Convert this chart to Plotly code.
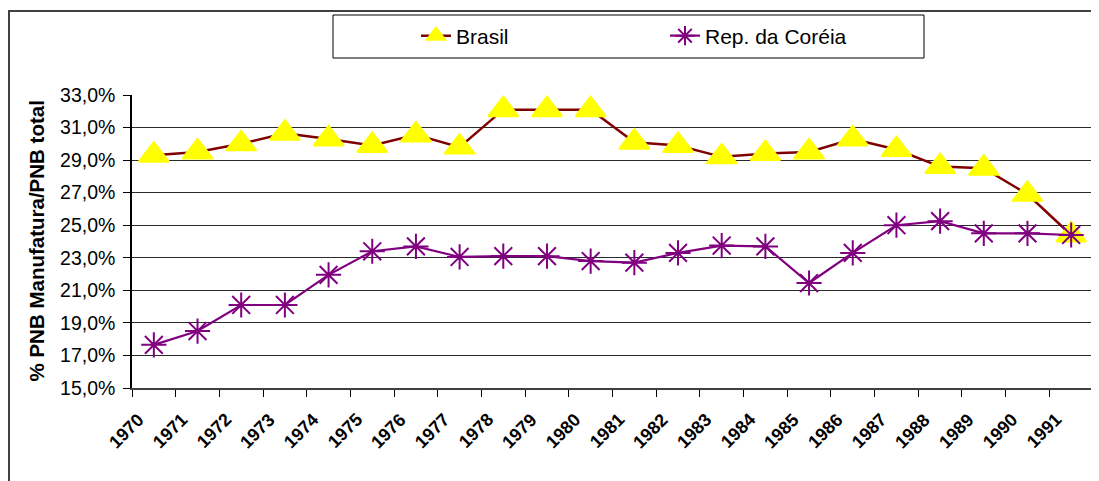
import plotly.graph_objects as go

# ---- data ----
years = ["1970", "1971", "1972", "1973", "1974", "1975", "1976", "1977", "1978", "1979", "1980",
         "1981", "1982", "1983", "1984", "1985", "1986", "1987", "1988", "1989", "1990", "1991"]
brasil = [29.3, 29.5, 30.0, 30.65, 30.3, 29.9, 30.55, 29.8, 32.1, 32.1, 32.1,
          30.1, 29.9, 29.2, 29.4, 29.5, 30.3, 29.65, 28.6, 28.5, 26.9, 24.4]
korea = [17.65, 18.5, 20.1, 20.1, 21.95, 23.4, 23.7, 23.05, 23.1, 23.1, 22.8,
         22.7, 23.3, 23.75, 23.7, 21.45, 23.3, 25.0, 25.25, 24.5, 24.5, 24.4]
y_ticks = [15, 17, 19, 21, 23, 25, 27, 29, 31, 33]
y_tick_text = ["15,0%", "17,0%", "19,0%", "21,0%", "23,0%", "25,0%", "27,0%", "29,0%", "31,0%", "33,0%"]

# ---- layout geometry ----
# the page body has an 8px margin, so the figure starts at page (8, 8)
OFF = 8
W, H = 1099 - OFF, 481 - OFF
# plot area in page pixels
L, R, T, B = 132, 1093, 95, 388
FONT = "Arial, 'Liberation Sans', sans-serif"


def px(x):
    """page x pixel -> paper coordinate"""
    return (x - L) / (R - L)


def py(y):
    """page y pixel -> paper coordinate"""
    return (B - y) / (B - T)


fig = go.Figure()
fig.add_trace(go.Scatter(
    x=years, y=brasil, name="Brasil", mode="lines+markers",
    line=dict(color="#800000", width=2.5),
    marker=dict(symbol="triangle-up", size=26, color="#FFFF00",
                line=dict(color="#FFFF00", width=2)),
))
fig.add_trace(go.Scatter(
    x=years, y=korea, name="Rep. da Coréia", mode="lines+markers",
    line=dict(color="#800080", width=2.2),
    marker=dict(symbol="asterisk-open", size=21, color="#800080",
                line=dict(color="#800080", width=2)),
))

annotations = [
    dict(text="% PNB Manufatura/PNB total", xref="paper", yref="paper",
         x=px(35.5), y=py(241), textangle=-90, showarrow=False,
         xanchor="center", yanchor="middle",
         font=dict(size=20.5, family=FONT, weight="bold", color="black")),
]
for i, yr in enumerate(years):
    annotations.append(dict(
        text=yr, xref="x", yref="paper", x=i, y=py(408),
        xanchor="right", yanchor="top", xshift=-5, textangle=-45,
        showarrow=False, borderpad=0,
        font=dict(size=18, family=FONT, weight="bold", color="black"),
    ))

fig.update_layout(
    width=W, height=H,
    margin=dict(l=L - OFF, r=1099 - R, t=T - OFF, b=H - (B - OFF), pad=0, autoexpand=False),
    paper_bgcolor="white", plot_bgcolor="white",
    font=dict(family=FONT, color="black"),
    showlegend=True,
    legend=dict(
        orientation="h", xref="container", yref="container",
        x=(416 - OFF) / W, xanchor="left", y=1 - (36 - OFF) / H, yanchor="middle",
        font=dict(size=21, family=FONT, color="black"),
        entrywidth=204, entrywidthmode="pixels",
        bgcolor="rgba(0,0,0,0)", borderwidth=0,
    ),
    xaxis=dict(
        type="category", range=[-0.5, len(years) - 0.5],
        tickson="boundaries", ticks="outside", ticklen=7, tickcolor="black", tickwidth=1,
        showline=True, linecolor="#404040", linewidth=1.5, showgrid=False,
        showticklabels=False,
    ),
    yaxis=dict(
        range=[15, 33], tickmode="array", tickvals=y_ticks, ticktext=y_tick_text,
        ticks="outside", ticklen=7, tickcolor="black", tickwidth=1,
        showline=True, linecolor="black", linewidth=1.5,
        showgrid=True, gridcolor="#2a2a2a", gridwidth=1, zeroline=False,
        tickfont=dict(size=19.5, family=FONT, color="black"),
        ticklabelstandoff=4,
    ),
    shapes=[
        # outer chart border
        dict(type="rect", xref="paper", yref="paper",
             x0=px(9), x1=px(1200), y0=py(11), y1=py(600),
             line=dict(color="#404040", width=2), layer="below"),
        # legend box
        dict(type="rect", xref="paper", yref="paper",
             x0=px(333), x1=px(924), y0=py(15), y1=py(58),
             line=dict(color="black", width=1)),
    ],
    annotations=annotations,
)

fig.write_html("out.html")
